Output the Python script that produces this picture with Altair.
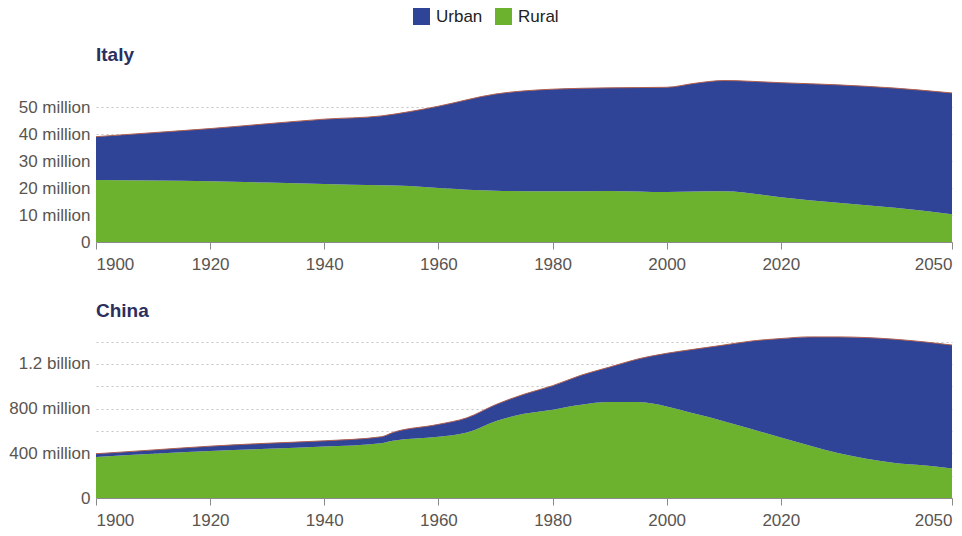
import altair as alt
import pandas as pd

# ---- data (millions) ----
italy_years = [1900, 1910, 1920, 1930, 1940, 1950, 1955, 1960, 1970, 1980, 1990,
               2000, 2005, 2010, 2020, 2030, 2040, 2050]
italy_urban = [16.0, 17.7, 19.5, 21.8, 24.0, 25.7, 27.6, 30.3, 35.8, 37.8, 38.2,
               38.8, 40.1, 41.0, 42.4, 43.7, 44.3, 44.9]
italy_rural = [23.0, 22.8, 22.5, 22.0, 21.5, 21.0, 20.7, 20.0, 19.0, 18.8, 18.9,
               18.5, 18.7, 18.8, 16.6, 14.5, 12.7, 10.3]

china_years = [1900, 1910, 1920, 1930, 1940, 1950, 1952, 1960, 1965, 1970, 1975,
               1980, 1985, 1990, 1995, 2000, 2005, 2010, 2015, 2020, 2025, 2030,
               2035, 2040, 2045, 2050]
china_urban = [29, 35, 44, 50, 52, 58, 74, 111, 132, 147, 176,
               214, 264, 313, 386, 475, 580, 681, 791, 885, 973, 1040,
               1084, 1107, 1105, 1105]
china_rural = [367, 395, 420, 440, 460, 490, 512, 548, 586, 688, 753,
               791, 835, 859, 859, 820, 753, 688, 615, 542, 469, 402,
               352, 314, 293, 264]

categories = ["Urban", "Rural"]
colors = ["#2f4496", "#6db22f"]
x_ticks = [1900, 1920, 1940, 1960, 1980, 2000, 2020, 2050]

FONT = "Liberation Sans"
LABEL_COLOR = "#5a5550"


def make_df(years, urban, rural):
    rows = []
    for y, u, r in zip(years, urban, rural):
        rows.append({"year": y, "type": "Rural", "value": r, "ord": 0})
        rows.append({"year": y, "type": "Urban", "value": u, "ord": 1})
    return pd.DataFrame(rows)


LEGEND = alt.Legend(title=None, orient="none", legendX=317, legendY=-72,
                    direction="horizontal", symbolType="square",
                    symbolSize=289, symbolStrokeWidth=0,
                    labelFontSize=17, labelFont=FONT, labelColor="#222222",
                    labelOffset=6, columnPadding=12)


def panel(df, title, ydomain, yvalues, label_expr):
    x_enc = alt.X(
        "year:Q",
        scale=alt.Scale(domain=[1900, 2050], nice=False, zero=False),
        axis=alt.Axis(values=x_ticks, format="d", title=None, labelFlush=True,
                      grid=False, tickSize=7, labelPadding=7,
                      domainColor="#8a8a8a", tickColor="#8a8a8a"),
    )
    yaxis = alt.Axis(values=yvalues, labelExpr=label_expr, title=None,
                     domain=False, ticks=False, grid=True, gridDash=[2, 3],
                     gridColor="#c4c4c4", labelPadding=6)
    yscale = alt.Scale(domain=ydomain, nice=False)
    base = alt.Chart(df)
    area = base.mark_area(interpolate="monotone").encode(
        x=x_enc,
        y=alt.Y("value:Q", stack="zero", scale=yscale, axis=yaxis),
        color=alt.Color("type:N",
                        scale=alt.Scale(domain=categories, range=colors),
                        legend=LEGEND),
        order=alt.Order("ord:Q"),
    )
    line = base.transform_aggregate(
        total="sum(value)", groupby=["year"]
    ).mark_line(interpolate="monotone", color="#b0604f", strokeWidth=1).encode(
        x=x_enc,
        y=alt.Y("total:Q", scale=yscale, axis=yaxis),
    )
    return alt.layer(area, line).properties(
        width=856, height=162,
        title=alt.TitleParams(title, anchor="start", frame="group", fontSize=19,
                              fontWeight="bold", color="#2b2f5e", font=FONT,
                              baseline="alphabetic", offset=-1),
    )


italy = panel(make_df(italy_years, italy_urban, italy_rural), "Italy",
              [0, 60], [0, 10, 20, 30, 40, 50],
              "datum.value == 0 ? '0' : datum.value + ' million'")
china = panel(make_df(china_years, china_urban, china_rural), "China",
              [0, 1450], [0, 200, 400, 600, 800, 1000, 1200, 1400],
              "datum.value == 0 ? '0' : (datum.value % 400 != 0 ? '' : "
              "(datum.value >= 1000 ? (datum.value / 1000) + ' billion' : datum.value + ' million'))")

chart = alt.vconcat(italy, china, spacing=94, bounds="flush").configure(
    background="white", padding=0
).configure_view(
    stroke=None
).configure_axis(
    labelFont=FONT, labelFontSize=17, labelColor=LABEL_COLOR
)

chart.save("out.html", embed_options={"renderer": "svg", "actions": False})
